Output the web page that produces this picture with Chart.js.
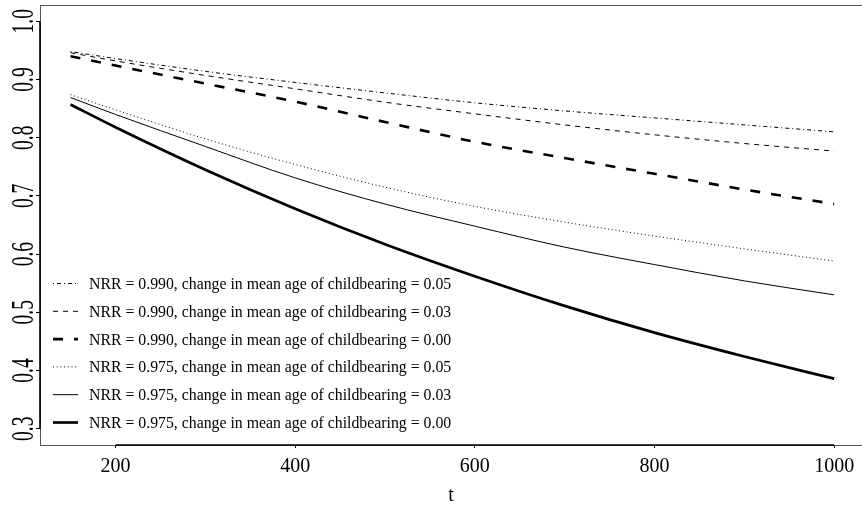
<!DOCTYPE html>
<html>
<head>
<meta charset="utf-8">
<script src="https://cdn.jsdelivr.net/npm/chart.js@4"></script>
<style>
  html, body { margin: 0; padding: 0; background: #ffffff; }
  #wrap { width: 862px; height: 506px; }
</style>
</head>
<body>
<div id="wrap"><canvas id="c" width="862" height="506"></canvas></div>
<script>
// ---- data ----
const tValues = [150, 200, 300, 400, 500, 600, 700, 800, 900, 1000];
const nrr990_ma05 = [0.948, 0.936, 0.914, 0.895, 0.877, 0.860, 0.846, 0.834, 0.822, 0.810];
const nrr990_ma03 = [0.946, 0.932, 0.907, 0.884, 0.861, 0.841, 0.822, 0.805, 0.790, 0.777];
const nrr990_ma00 = [0.940, 0.924, 0.893, 0.862, 0.827, 0.793, 0.765, 0.738, 0.711, 0.686];
const nrr975_ma05 = [0.874, 0.848, 0.798, 0.754, 0.715, 0.682, 0.655, 0.631, 0.609, 0.588];
const nrr975_ma03 = [0.869, 0.840, 0.785, 0.731, 0.686, 0.648, 0.612, 0.582, 0.554, 0.530];
const nrr975_ma00 = [0.857, 0.818, 0.745, 0.678, 0.617, 0.562, 0.511, 0.465, 0.424, 0.386];

const seriesLabels = [
  "NRR = 0.990, change in mean age of childbearing = 0.05",
  "NRR = 0.990, change in mean age of childbearing = 0.03",
  "NRR = 0.990, change in mean age of childbearing = 0.00",
  "NRR = 0.975, change in mean age of childbearing = 0.05",
  "NRR = 0.975, change in mean age of childbearing = 0.03",
  "NRR = 0.975, change in mean age of childbearing = 0.00"
];
const xTickValues = [200, 400, 600, 800, 1000];
const yTickValues = [0.3, 0.4, 0.5, 0.6, 0.7, 0.8, 0.9, 1.0];
const xTitle = "t";

// ---- styles ----
const seriesData = [nrr990_ma05, nrr990_ma03, nrr990_ma00, nrr975_ma05, nrr975_ma03, nrr975_ma00];
const seriesStyle = [
  { w: 1,   dash: [1, 3, 4, 3] },
  { w: 1,   dash: [5, 5] },
  { w: 2.6, dash: [10, 11] },
  { w: 1,   dash: [1, 2.7] },
  { w: 1,   dash: [] },
  { w: 2.7, dash: [] }
];

const datasets = seriesData.map((arr, i) => ({
  label: seriesLabels[i],
  data: arr.map((v, j) => ({ x: tValues[j], y: v })),
  borderColor: '#000',
  borderWidth: seriesStyle[i].w,
  borderDash: seriesStyle[i].dash,
  borderCapStyle: 'butt',
  pointRadius: 0,
  fill: false,
  cubicInterpolationMode: 'monotone'
}));

const SERIF = '"Liberation Serif", "Times New Roman", serif';

const rPlot = {
  id: 'rPlot',
  afterDraw(chart) {
    const ctx = chart.ctx;
    const a = chart.chartArea;
    const xs = chart.scales.x, ys = chart.scales.y;
    ctx.save();
    // box
    ctx.strokeStyle = '#555';
    ctx.lineWidth = 1;
    ctx.setLineDash([]);
    ctx.strokeRect(a.left + 0.5, a.top + 0.5, a.right - a.left + 10, a.bottom - a.top);
    // axis lines (from first to last tick)
    ctx.strokeStyle = '#000';
    ctx.lineWidth = 1.6;
    ctx.beginPath();
    ctx.moveTo(xs.getPixelForValue(xTickValues[0]), a.bottom);
    ctx.lineTo(xs.getPixelForValue(xTickValues[xTickValues.length - 1]), a.bottom);
    ctx.moveTo(a.left, ys.getPixelForValue(yTickValues[0]));
    ctx.lineTo(a.left, ys.getPixelForValue(yTickValues[yTickValues.length - 1]));
    ctx.stroke();
    // rotated y tick labels
    ctx.fillStyle = '#000';
    ctx.font = '19.5px ' + SERIF;
    ctx.textAlign = 'center';
    ctx.textBaseline = 'alphabetic';
    yTickValues.forEach(v => {
      const py = ys.getPixelForValue(v);
      ctx.save();
      ctx.translate(33, py);
      ctx.rotate(-Math.PI / 2);
      ctx.scale(1, 1.6);
      ctx.fillText(v.toFixed(1), 0, 0);
      ctx.restore();
    });
    // legend
    ctx.font = '15.8px ' + SERIF;
    ctx.textAlign = 'left';
    chart.data.datasets.forEach((ds, i) => {
      const y = 283.5 + i * 27.8;
      ctx.strokeStyle = '#000';
      ctx.lineWidth = ds.borderWidth;
      ctx.setLineDash(ds.borderDash);
      ctx.lineCap = 'butt';
      ctx.beginPath();
      ctx.moveTo(53, y);
      ctx.lineTo(78, y);
      ctx.stroke();
      ctx.setLineDash([]);
      ctx.fillText(ds.label, 89, y + 5.4);
    });
    ctx.restore();
  }
};

new Chart(document.getElementById('c'), {
  type: 'line',
  data: { datasets },
  options: {
    responsive: false,
    animation: false,
    layout: { padding: { top: 5, right: 0, bottom: 0, left: 0 } },
    plugins: { legend: { display: false }, tooltip: { enabled: false } },
    scales: {
      x: {
        type: 'linear',
        min: 116,
        max: 1031,
        afterBuildTicks: s => { s.ticks = xTickValues.map(v => ({ value: v })); },
        afterFit: s => { s.height = 61; },
        grid: { display: true, drawOnChartArea: false, drawTicks: true, tickLength: 3, color: '#000', lineWidth: 1 },
        border: { display: false },
        ticks: { color: '#000', font: { family: SERIF, size: 20 }, padding: 6.5, maxRotation: 0, autoSkip: false,
                 callback: v => String(v) },
        title: { display: true, text: xTitle, color: '#000', font: { family: SERIF, size: 20, lineHeight: 1 }, padding: 0 }
      },
      y: {
        type: 'linear',
        min: 0.272,
        max: 1.028,
        afterBuildTicks: s => { s.ticks = yTickValues.map(v => ({ value: v })); },
        afterFit: s => { s.width = 40; },
        grid: { display: true, drawOnChartArea: false, drawTicks: true, tickLength: 4, color: '#000', lineWidth: 1 },
        border: { display: false },
        ticks: { display: false }
      }
    }
  },
  plugins: [rPlot]
});
</script>
</body>
</html>
